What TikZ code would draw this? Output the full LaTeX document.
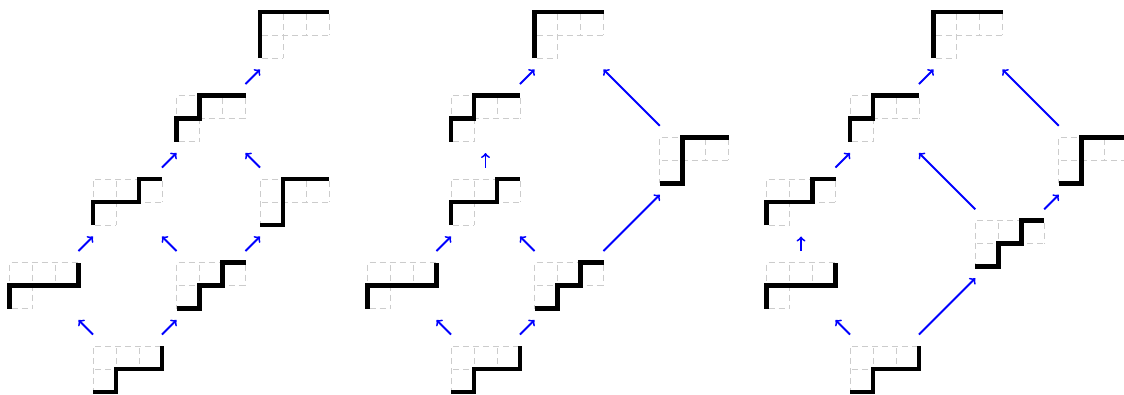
\documentclass[tikz,border=0pt]{standalone}
\begin{document}
\tikzset{
  vtx/.style={rectangle, minimum width=51.75pt, minimum height=51.75pt, inner sep=0pt, outer sep=0pt},
  arr/.style={->, blue, line width=1.4pt},
  gridln/.style={black!20, line width=0.7pt, dash pattern=on 4.5pt off 3pt, dash phase=-1.5pt},
  lpath/.style={black, line width=3.6pt},
}
\newcommand{\lpnode}[3]{%
  \node[vtx] (#1) at (#2) {};
  \begin{scope}[shift={(#1.center)}, x=17.25pt, y=-17.25pt, shift={(-1.5,-1)}]
    \draw[gridln] (0,0) -- (3,0) (0,1) -- (3,1) (0,2) -- (1,2)
                  (0,0) -- (0,2) (1,0) -- (1,2) (2,0) -- (2,1) (3,0) -- (3,1);
    \draw[lpath] #3;
  \end{scope}}
\begin{tikzpicture}[x=0.75pt, y=0.75pt]
\useasboundingbox (0,0) rectangle (1124,394);
% ---------- panel 1 ----------
\lpnode{pA}{127.5,25}{(0,2)--(1,2)--(1,1)--(3,1)--(3,0)}
\lpnode{pB}{44,108.5}{(0,2)--(0,1)--(3,1)--(3,0)}
\lpnode{pC}{211,108.5}{(0,2)--(1,2)--(1,1)--(2,1)--(2,0)--(3,0)}
\lpnode{pD}{127.5,192}{(0,2)--(0,1)--(2,1)--(2,0)--(3,0)}
\lpnode{pE}{294.5,192}{(0,2)--(1,2)--(1,0)--(3,0)}
\lpnode{pF}{211,275.5}{(0,2)--(0,1)--(1,1)--(1,0)--(3,0)}
\lpnode{pG}{294.5,359}{(0,2)--(0,0)--(3,0)}
\draw[arr] (pA) -- (pB);
\draw[arr] (pA) -- (pC);
\draw[arr] (pB) -- (pD);
\draw[arr] (pC) -- (pD);
\draw[arr] (pC) -- (pE);
\draw[arr] (pD) -- (pF);
\draw[arr] (pE) -- (pF);
\draw[arr] (pF) -- (pG);
% ---------- panel 2 ----------
\lpnode{qA}{485.5,25}{(0,2)--(1,2)--(1,1)--(3,1)--(3,0)}
\lpnode{qB}{402,108.5}{(0,2)--(0,1)--(3,1)--(3,0)}
\lpnode{qC}{569,108.5}{(0,2)--(1,2)--(1,1)--(2,1)--(2,0)--(3,0)}
\lpnode{qD}{485.5,192}{(0,2)--(0,1)--(2,1)--(2,0)--(3,0)}
\lpnode{qE}{694.25,233.75}{(0,2)--(1,2)--(1,0)--(3,0)}
\lpnode{qF}{485.5,275.5}{(0,2)--(0,1)--(1,1)--(1,0)--(3,0)}
\lpnode{qG}{569,359}{(0,2)--(0,0)--(3,0)}
\draw[arr] (qA) -- (qB);
\draw[arr] (qA) -- (qC);
\draw[arr] (qB) -- (qD);
\draw[arr] (qC) -- (qD);
\draw[arr] (qC) -- (qE);
\draw[arr] (qD) -- (qF);
\draw[arr] (qF) -- (qG);
\draw[arr] (qE) -- (qG);
% ---------- panel 3 ----------
\lpnode{rA}{884.5,25}{(0,2)--(1,2)--(1,1)--(3,1)--(3,0)}
\lpnode{rB}{801,108.5}{(0,2)--(0,1)--(3,1)--(3,0)}
\lpnode{rC}{1009.75,150.25}{(0,2)--(1,2)--(1,1)--(2,1)--(2,0)--(3,0)}
\lpnode{rD}{801,192}{(0,2)--(0,1)--(2,1)--(2,0)--(3,0)}
\lpnode{rE}{1093.25,233.75}{(0,2)--(1,2)--(1,0)--(3,0)}
\lpnode{rF}{884.5,275.5}{(0,2)--(0,1)--(1,1)--(1,0)--(3,0)}
\lpnode{rG}{968,359}{(0,2)--(0,0)--(3,0)}
\draw[arr] (rA) -- (rB);
\draw[arr] (rA) -- (rC);
\draw[arr] (rB) -- (rD);
\draw[arr] (rD) -- (rF);
\draw[arr] (rC) -- (rF);
\draw[arr] (rC) -- (rE);
\draw[arr] (rE) -- (rG);
\draw[arr] (rF) -- (rG);
\end{tikzpicture}
\end{document}
